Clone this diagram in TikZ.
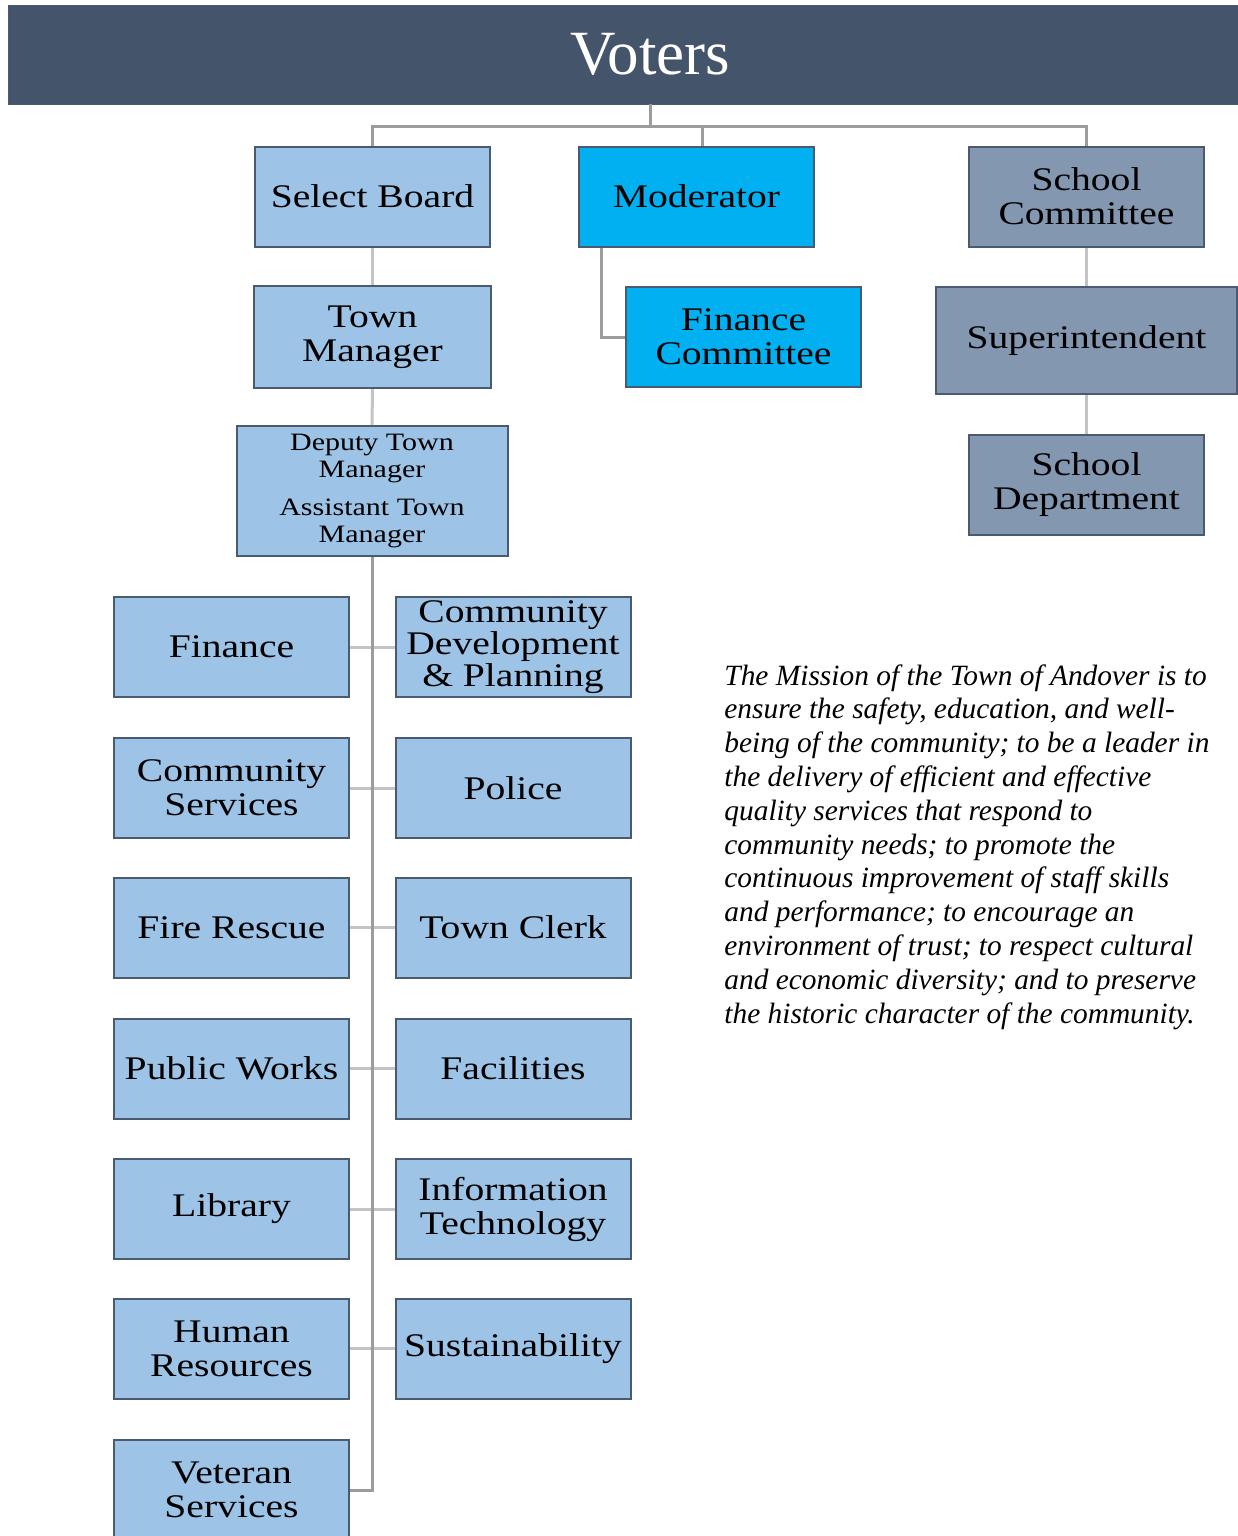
\documentclass[tikz,border=0pt]{standalone}
\usepackage{fontspec}
\setmainfont{Liberation Serif}
\newfontfamily\boxfont[FakeStretch=1.2]{Liberation Serif}
\usepackage{tikz}

\definecolor{slatedark}{HTML}{44546A}
\definecolor{townblue}{HTML}{9DC3E6}
\definecolor{modcyan}{HTML}{00B0F0}
\definecolor{schoolgray}{HTML}{8497B0}
\definecolor{rimcol}{HTML}{4A5A70}
\definecolor{linkgray}{HTML}{9C9C9C}
\definecolor{branchgray}{HTML}{C4C4C4}

\begin{document}
\begin{tikzpicture}[x=0.5pt, y=-0.5pt,
  unit/.style = {draw=rimcol, line width=1pt, inner sep=0pt, align=center,
    font=\boxfont\fontsize{16.5pt}{17pt}\selectfont,
    minimum width=117.5pt, minimum height=50pt},
  town/.style = {unit, fill=townblue},
  moder/.style = {unit, fill=modcyan},
  school/.style = {unit, fill=schoolgray},
  link/.style = {draw=linkgray, line width=1.5pt},
  branch/.style = {draw=branchgray, line width=1.5pt}]
\useasboundingbox (0,0) rectangle (1237,1536);

\node[draw=rimcol, fill=slatedark, text=white, minimum width=642pt, minimum height=49.5pt,
  font=\fontsize{31.5pt}{34pt}\selectfont] (voters) at (650,54.5) {Voters};

\node[town] (select) at (372.5,196.5) {Select Board};
\node[moder] (moderator) at (696.5,196.5) {Moderator};
\node[school] (schoolcom) at (1086.5,196.5) {School\\Committee};

\node[town, minimum width=118.5pt, minimum height=51pt] (townmgr) at (372.5,337) {Town\\Manager};
\node[moder] (fincom) at (743.5,337) {Finance\\Committee};
\node[school, minimum width=150.5pt, minimum height=53.5pt] (superint) at (1086.5,340.5) {Superintendent};
\node[school] (schooldept) at (1086.5,484.5) {School\\Department};

\node[town, minimum width=135.5pt, minimum height=65pt,
  font=\boxfont\fontsize{12.5pt}{13.5pt}\selectfont] (deputy) at (372,491)
  {Deputy Town\\Manager\\[5.5pt]Assistant Town\\Manager};

\node[town] (finance) at (231.5,647) {Finance};
\node[town, font=\boxfont\fontsize{16.5pt}{16pt}\selectfont] (cdp) at (513,647) {Community\\Development\\\& Planning};
\node[town] (commsvc) at (231.5,788) {Community\\Services};
\node[town] (police) at (513,788) {Police};
\node[town] (fire) at (231.5,927.5) {Fire Rescue};
\node[town] (clerk) at (513,927.5) {Town Clerk};
\node[town] (dpw) at (231.5,1068.5) {Public Works};
\node[town] (facilities) at (513,1068.5) {Facilities};
\node[town] (library) at (231.5,1209) {Library};
\node[town] (infotech) at (513,1209) {Information\\Technology};
\node[town] (hr) at (231.5,1348.5) {Human\\Resources};
\node[town] (sustain) at (513,1348.5) {Sustainability};
\node[town] (veteran) at (231.5,1490) {Veteran\\Services};

\coordinate (hub) at (650,127);
\draw[link] (voters.south) -- (hub);
\draw[link] (select.north) |- (hub) -| (schoolcom.north);
\draw[link] ([xshift=3pt]moderator.north) -- ([xshift=3pt]moderator.north |- hub);
\draw[branch] (select.south) -- (townmgr.north);
\draw[branch] (townmgr.south) -- (deputy.north);
\draw[link] ([xshift=11.5pt]moderator.south west) |- (fincom.west);
\draw[branch] (schoolcom.south) -- (superint.north);
\draw[branch] (superint.south) -- (schooldept.north);

\draw[branch] (finance.east) -- (cdp.west);
\draw[branch] (commsvc.east) -- (police.west);
\draw[branch] (fire.east) -- (clerk.west);
\draw[branch] (dpw.east) -- (facilities.west);
\draw[branch] (library.east) -- (infotech.west);
\draw[branch] (hr.east) -- (sustain.west);
\draw[link] (deputy.south) -- (deputy.south |- veteran.east) -- (veteran.east);

\node[anchor=north west, inner sep=0pt, align=left,
  font=\itshape\fontsize{14.7pt}{16.9pt}\selectfont] (mission) at (724,664)
  {The Mission of the Town of Andover is to\\
   ensure the safety, education, and well-\\
   being of the community; to be a leader in\\
   the delivery of efficient and effective\\
   quality services that respond to\\
   community needs; to promote the\\
   continuous improvement of staff skills\\
   and performance; to encourage an\\
   environment of trust; to respect cultural\\
   and economic diversity; and to preserve\\
   the historic character of the community.};
\end{tikzpicture}
\end{document}
